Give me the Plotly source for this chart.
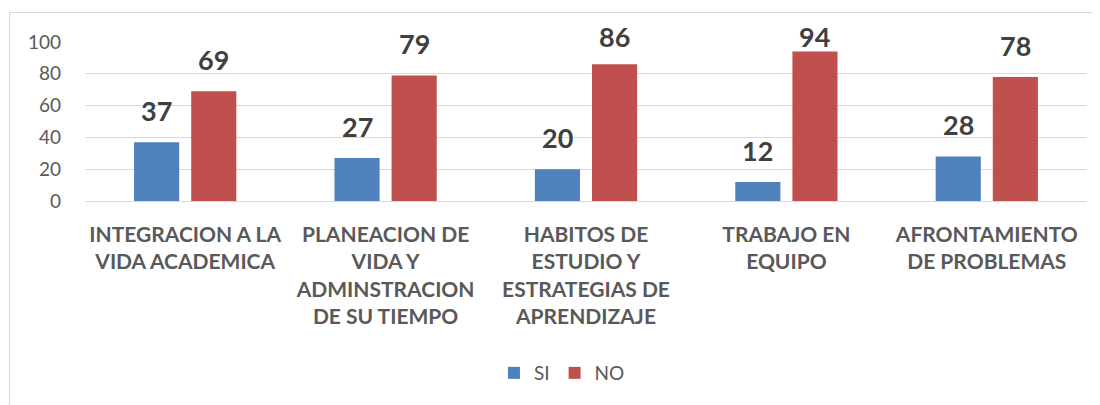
import plotly.graph_objects as go

categories = [
    "INTEGRACION A LA<br>VIDA ACADEMICA",
    "PLANEACION DE<br>VIDA Y<br>ADMINSTRACION<br>DE SU TIEMPO",
    "HABITOS DE<br>ESTUDIO Y<br>ESTRATEGIAS DE<br>APRENDIZAJE",
    "TRABAJO EN<br>EQUIPO",
    "AFRONTAMIENTO<br>DE PROBLEMAS",
]
si_values = [37, 27, 20, 12, 28]
no_values = [69, 79, 86, 94, 78]
y_ticks = [0, 20, 40, 60, 80, 100]

BLUE = "#4F81BD"
RED = "#C0504D"
FONT = "Lato, 'Open Sans', sans-serif"

OFF = 8  # page body margin
W, H = 1100 - OFF, 405 - OFF
ML, MR, MT, MB = 85 - OFF, 13, 42 - OFF, 204
pw = W - ML - MR
ph = H - MT - MB

LABEL_CAP = 83.5  # labels are kept inside the chart area (as in the original)

fig = go.Figure()
fig.add_trace(go.Bar(name="SI", x=categories, y=si_values, marker_color=BLUE,
                     marker_line_width=0))
fig.add_trace(go.Bar(name="NO", x=categories, y=no_values, marker_color=RED,
                     marker_line_width=0))

for vals, shift in ((si_values, -28.5), (no_values, 28.5)):
    for c, v in zip(categories, vals):
        fig.add_annotation(x=c, y=min(v, LABEL_CAP), text=f"<b>{v}</b>",
                           showarrow=False, xshift=shift, yshift=13,
                           yanchor="bottom",
                           font=dict(family=FONT, size=27, color="#404040"))

# chart border (left and top visible)
fig.add_shape(type="rect", xref="paper", yref="paper",
              x0=(9.5 - 85) / pw, x1=(W + 20 - ML) / pw,
              y0=-(MB + 20) / ph, y1=1 + (42 - 12.5) / ph,
              line=dict(color="#D9D9D9", width=1), layer="below")

fig.update_layout(
    width=W, height=H,
    margin=dict(l=ML, r=MR, t=MT, b=MB, autoexpand=False),
    paper_bgcolor="white", plot_bgcolor="white",
    barmode="group", bargap=0.43, bargroupgap=0.21,
    font=dict(family=FONT, color="#595959"),
    showlegend=True,
    legend=dict(orientation="h", x=0.476, xanchor="center",
                y=(201 - 373) / ph, yanchor="middle",
                font=dict(size=19, color="#595959"),
                itemwidth=30, traceorder="normal"),
    xaxis=dict(showgrid=False, showline=False, ticks="",
               tickfont=dict(family=FONT, size=21, color="#595959", weight="bold"),
               ticklabelstandoff=19, tickangle=0),
    yaxis=dict(range=[0, 100], tickvals=y_ticks, showgrid=True,
               gridcolor="#D9D9D9", gridwidth=1, zeroline=True,
               zerolinecolor="#D9D9D9", zerolinewidth=1, showline=False,
               ticks="", tickfont=dict(family=FONT, size=19, color="#595959"),
               ticklabelstandoff=23),
)

fig.write_html("out.html")
